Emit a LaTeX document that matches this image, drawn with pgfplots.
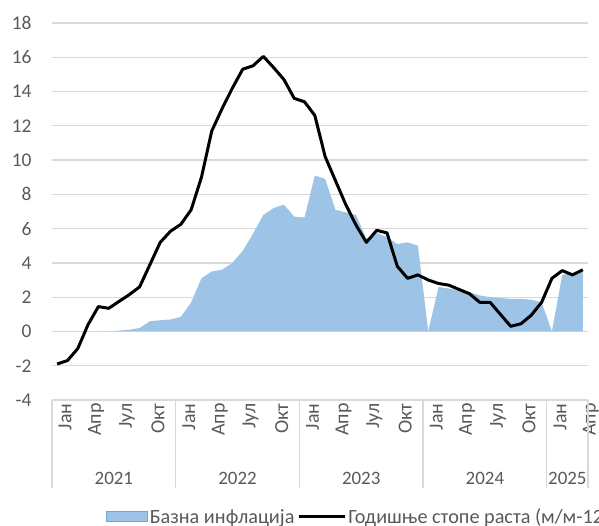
\documentclass[border=0pt]{standalone}
\usepackage{fontspec}
\setmainfont{Carlito}
\usepackage{pgfplots}
\pgfplotsset{compat=1.18}
\definecolor{areafill}{HTML}{9DC3E6}
\definecolor{areaedge}{HTML}{6FA5D8}
\definecolor{gridc}{HTML}{D9D9D9}
\definecolor{txt}{HTML}{595959}
\pgfplotstableread{
x y
0 0
1 0
2 0
3 0
4 0
5 0
6 0.05
7 0.1
8 0.2
9 0.6
10 0.65
11 0.7
12 0.85
13 1.7
14 3.1
15 3.5
16 3.6
17 4.0
18 4.7
19 5.7
20 6.8
21 7.2
22 7.4
23 6.7
24 6.65
25 9.1
26 8.9
27 7.1
28 6.95
29 6.8
30 5.4
31 5.75
32 5.5
33 5.1
34 5.2
35 5.0
36 0
37 2.6
38 2.5
39 2.4
40 2.3
41 2.1
42 2.0
43 1.95
44 1.9
45 1.9
46 1.85
47 1.7
48 0
49 3.3
50 3.4
51 3.6
}\basetable
\pgfplotstableread{
x y
0 -1.9
1 -1.7
2 -1.0
3 0.4
4 1.45
5 1.35
6 1.75
7 2.15
8 2.6
9 3.9
10 5.2
11 5.85
12 6.25
13 7.1
14 9.0
15 11.7
16 13.0
17 14.2
18 15.3
19 15.5
20 16.05
21 15.4
22 14.7
23 13.6
24 13.4
25 12.6
26 10.2
27 8.8
28 7.4
29 6.2
30 5.2
31 5.9
32 5.75
33 3.8
34 3.1
35 3.3
36 3.0
37 2.8
38 2.7
39 2.45
40 2.2
41 1.7
42 1.7
43 1.0
44 0.3
45 0.45
46 0.95
47 1.7
48 3.1
49 3.55
50 3.3
51 3.6
}\linetable
\begin{document}
\begin{tikzpicture}[x=1bp,y=1bp]
\useasboundingbox (0,0) rectangle (599,526);
\begin{axis}[
  at={(52bp,126bp)}, anchor=south west,
  scale only axis, width=536bp, height=377bp,
  xmin=-0.5, xmax=51.5, ymin=-4, ymax=18,
  clip=false,
  axis line style={draw=none},
  major tick length=0pt,
  ytick={-4,-2,...,18},
  yticklabels={-4,-2,0,2,4,6,8,10,12,14,16,18},
  ymajorgrids, grid style={gridc, line width=1.2bp},
  xtick={0,3,...,51},
  xticklabels={Јан,Апр,Јул,Окт,Јан,Апр,Јул,Окт,Јан,Апр,Јул,Окт,Јан,Апр,Јул,Окт,Јан,Апр},
  tick label style={text=txt},
  yticklabel style={anchor=east, xshift=-17bp, font=\fontsize{19.5}{21}\selectfont},
  xticklabel style={rotate=90, anchor=east, yshift=-8bp, font=\fontsize{20}{22}\selectfont},
  legend columns=2,
  legend style={draw=none, fill=none, inner sep=0pt, at={(axis description cs:0.1,-0.31)}, anchor=west,
    font=\fontsize{20.3}{22}\selectfont, text=txt,
    /tikz/every even column/.append style={column sep=1bp}},
]
\addplot[fill=areafill, draw=none,
  legend image code/.code={\draw[fill=areafill, draw=areaedge, line width=1bp] (0bp,-5bp) rectangle (41bp,5bp);}]
  table[x=x,y=y] {\basetable} \closedcycle;
\addlegendentry{Базна инфлација}
\addplot[black, line width=3bp, line join=round,
  legend image code/.code={\draw[black, line width=3bp] (0bp,0bp) -- (46bp,0bp);}]
  table[x=x,y=y] {\linetable};
\addlegendentry{Годишње стопе раста (м/м-12)}
\draw[gridc, line width=1.2bp] (axis cs:-0.5,-4) -- ([yshift=-88bp]axis cs:-0.5,-4);
\draw[gridc, line width=1.2bp] (axis cs:11.5,-4) -- ([yshift=-88bp]axis cs:11.5,-4);
\draw[gridc, line width=1.2bp] (axis cs:23.5,-4) -- ([yshift=-88bp]axis cs:23.5,-4);
\draw[gridc, line width=1.2bp] (axis cs:35.5,-4) -- ([yshift=-88bp]axis cs:35.5,-4);
\draw[gridc, line width=1.2bp] (axis cs:47.5,-4) -- ([yshift=-88bp]axis cs:47.5,-4);
\draw[gridc, line width=1.2bp] (axis cs:51.5,-4) -- ([yshift=-88bp]axis cs:51.5,-4);
\node[font=\fontsize{19}{21}\selectfont, text=txt] at (axis cs:5.5,-4) [yshift=-78bp] {2021};
\node[font=\fontsize{19}{21}\selectfont, text=txt] at (axis cs:17.5,-4) [yshift=-78bp] {2022};
\node[font=\fontsize{19}{21}\selectfont, text=txt] at (axis cs:29.5,-4) [yshift=-78bp] {2023};
\node[font=\fontsize{19}{21}\selectfont, text=txt] at (axis cs:41.5,-4) [yshift=-78bp] {2024};
\node[font=\fontsize{19}{21}\selectfont, text=txt] at (axis cs:49.5,-4) [yshift=-78bp] {2025};
\end{axis}
\end{tikzpicture}
\end{document}
